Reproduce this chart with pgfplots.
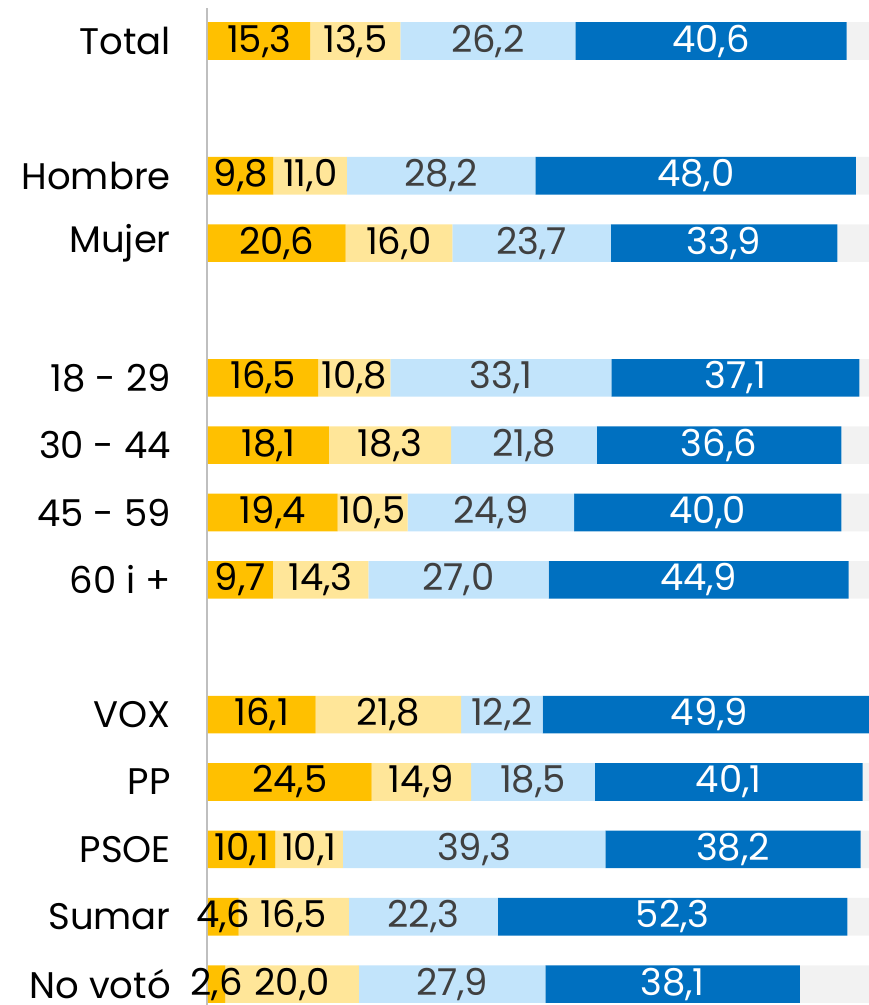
\documentclass[border=0pt]{standalone}
\usepackage{pgfplots}
\pgfplotsset{compat=1.18}
\usepackage{pgfplotstable}
\usepackage{fontspec}
\setmainfont{Poppins}
\definecolor{cOr}{HTML}{FFC000}
\definecolor{cYe}{HTML}{FFE699}
\definecolor{cLb}{HTML}{C2E4FB}
\definecolor{cDb}{HTML}{0070C0}
\definecolor{cGr}{HTML}{F2F2F2}
\definecolor{cTx}{HTML}{404040}
\definecolor{cAx}{HTML}{BFBFBF}
\pgfkeys{/pgf/number format/assume math mode=true}
\pgfplotstableread{
y  a    b    c    d    e
0  15.3 13.5 26.2 40.6 4.4
2  9.8  11.0 28.2 48.0 3.0
3  20.6 16.0 23.7 33.9 5.8
5  16.5 10.8 33.1 37.1 2.5
6  18.1 18.3 21.8 36.6 5.2
7  19.4 10.5 24.9 40.0 5.2
8  9.7  14.3 27.0 44.9 4.1
10 16.1 21.8 12.2 49.9 0.0
11 24.5 14.9 18.5 40.1 2.0
12 10.1 10.1 39.3 38.2 2.3
13 4.6  16.5 22.3 52.3 4.3
14 2.6  20.0 27.9 38.1 11.4
}\data
\newcommand{\bigf}{\fontsize{37bp}{44bp}\selectfont}
\pgfplotsset{
  seglab/.style={
    nodes near coords={\pgfmathprintnumber[fixed,fixed zerofill,precision=1,use comma]{\pgfplotspointmeta}},
    point meta=explicit,
    every node near coord/.style={anchor=center, inner sep=0pt, font=\bigf},
  }
}
\begin{document}
\begin{tikzpicture}
\begin{axis}[
  scale only axis,
  width=661bp, height=1005bp,
  xmin=0, xmax=98.95,
  ymin=-0.609, ymax=14.311,
  y dir=reverse,
  xbar stacked,
  bar width=37.6bp,
  clip=false,
  hide x axis,
  axis line style={draw=none},
  major tick length=0pt,
  ytick={0,2,3,5,6,7,8,10,11,12,13,14},
  yticklabels={Total,Hombre,Mujer,18 - 29,30 - 44,45 - 59,60 i +,VOX,PP,PSOE,Sumar,No votó},
  y tick label style={anchor=east, inner sep=0pt, xshift=-37bp, font=\bigf},
]
\addplot[fill=cOr, draw=none, seglab, every node near coord/.append style={text=black}] table[x=a,y=y,meta=a]{\data};
\addplot[fill=cYe, draw=none, seglab, every node near coord/.append style={text=black}] table[x=b,y=y,meta=b]{\data};
\addplot[fill=cLb, draw=none, seglab, every node near coord/.append style={text=cTx}] table[x=c,y=y,meta=c]{\data};
\addplot[fill=cDb, draw=none, seglab, every node near coord/.append style={text=white}] table[x=d,y=y,meta=d]{\data};
\addplot[fill=cGr, draw=none] table[x=e,y=y]{\data};
\draw[cAx, line width=2.5bp] (axis cs:-0.15,-0.49) -- (axis cs:-0.15,14.311);
\end{axis}
\pgfresetboundingbox
\path[use as bounding box] ([xshift=-208bp]current axis.south west) rectangle (current axis.north east);
\end{tikzpicture}
\end{document}
